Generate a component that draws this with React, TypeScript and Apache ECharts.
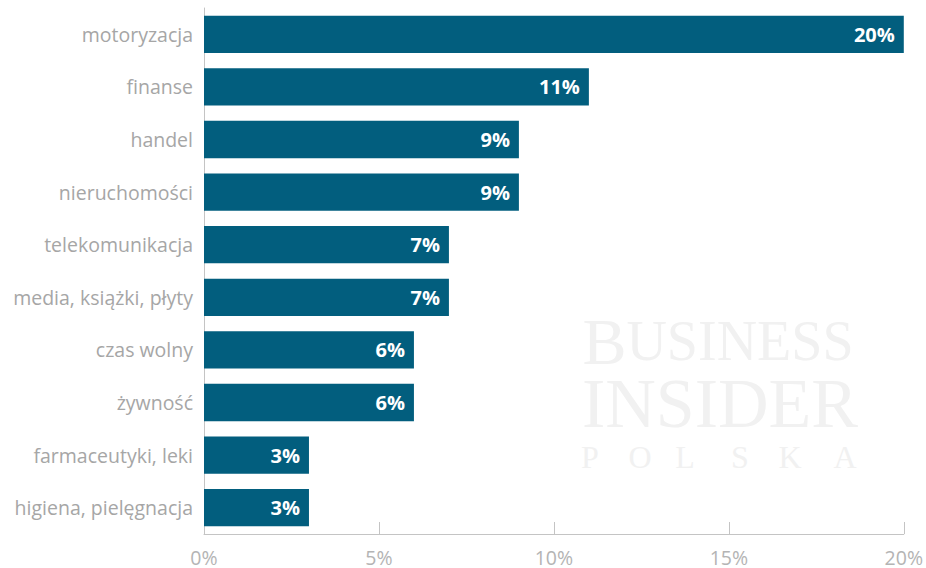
import React, { useEffect, useRef } from "react";
import * as echarts from "echarts";

const categories = [
  "motoryzacja",
  "finanse",
  "handel",
  "nieruchomości",
  "telekomunikacja",
  "media, książki, płyty",
  "czas wolny",
  "żywność",
  "farmaceutyki, leki",
  "higiena, pielęgnacja",
];
const values = [20, 11, 9, 9, 7, 7, 6, 6, 3, 3];
const xTicks = [0, 5, 10, 15, 20];

const WM = "#f1f1f1";
const serif = "'Liberation Serif', 'DejaVu Serif', serif";

function letter(text: string, x: number, y: number, size: number) {
  return {
    type: "text",
    z: -10,
    style: {
      text,
      x,
      y,
      fill: WM,
      font: `${size}px ${serif}`,
      lineHeight: Math.round(size * 0.75),
      align: "center",
      verticalAlign: "middle",
    },
  };
}

export default function App() {
  const ref = useRef<HTMLDivElement>(null);
  useEffect(() => {
    if (!ref.current) return;
    const chart = echarts.init(ref.current, null, { renderer: "svg" });
    const labelFont = "'Open Sans', 'Noto Sans', sans-serif";
    const watermark = [
      {
        type: "text",
        z: -10,
        style: {
          text: "{a|B}{b|USINESS}",
          x: 718,
          y: 341,
          align: "center",
          verticalAlign: "middle",
          fill: WM,
          rich: {
            a: { fontFamily: serif, fontSize: 66, fill: WM, lineHeight: 50 },
            b: { fontFamily: serif, fontSize: 56, fill: WM, lineHeight: 50 },
          },
        },
      },
      {
        type: "text",
        z: -10,
        style: {
          text: "INSIDER",
          x: 720,
          y: 403,
          align: "center",
          verticalAlign: "middle",
          fill: WM,
          font: `70px ${serif}`,
          lineHeight: 50,
        },
      },
      letter("P", 590, 457, 32),
      letter("O", 640, 457, 32),
      letter("L", 685, 457, 32),
      letter("S", 740, 457, 32),
      letter("K", 790, 457, 32),
      letter("A", 845, 457, 32),
    ];
    chart.setOption({
      animation: false,
      backgroundColor: "#ffffff",
      graphic: watermark,
      grid: { left: 204, right: 22, top: 8, bottom: 34, containLabel: false },
      xAxis: {
        type: "value",
        min: 0,
        max: 20,
        interval: 5,
        axisLine: { show: true, lineStyle: { color: "#c4c4c4", width: 1 } },
        axisTick: { show: true, inside: true, length: 12, lineStyle: { color: "#c4c4c4" } },
        splitLine: { show: false },
        axisLabel: {
          color: "#b4b4b4",
          fontSize: 19.5,
          lineHeight: 20,
          fontFamily: labelFont,
          margin: 13,
          formatter: (v: number) => (xTicks.includes(v) ? `${v}%` : ""),
        },
      },
      yAxis: {
        type: "category",
        data: categories,
        inverse: true,
        axisLine: { show: true, lineStyle: { color: "#c4c4c4", width: 1 } },
        axisTick: { show: false },
        axisLabel: {
          color: "#a6a6a6",
          fontSize: 19.5,
          fontFamily: labelFont,
          margin: 11,
        },
      },
      series: [
        {
          type: "bar",
          data: values,
          barCategoryGap: "29%",
          itemStyle: { color: "#025e7e" },
          label: {
            show: true,
            position: "insideRight",
            distance: 9,
            color: "#ffffff",
            fontWeight: "bold",
            fontSize: 20,
            fontFamily: labelFont,
            formatter: (p: any) => `${p.value}%`,
          },
        },
      ],
    });
    return () => chart.dispose();
  }, []);
  return (
    <div
      ref={ref}
      style={{ position: "fixed", left: 0, top: 0, width: 926, height: 568 }}
    />
  );
}
